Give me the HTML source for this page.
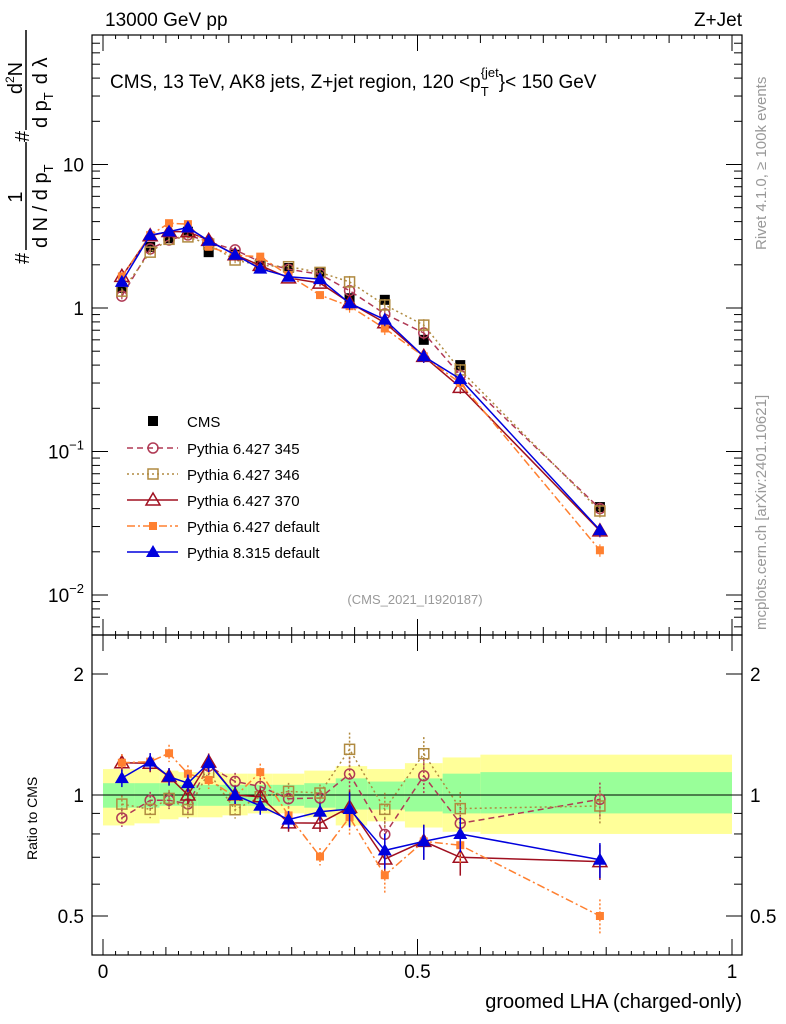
<!DOCTYPE html>
<html><head><meta charset="utf-8">
<style>
html,body{margin:0;padding:0;background:#fff;}
svg{display:block;font-family:"Liberation Sans",sans-serif;}
</style></head>
<body>
<svg id="chart" width="786" height="1024" viewBox="0 0 786 1024" xmlns="http://www.w3.org/2000/svg">
<g id="bands"></g>
<g id="axes"></g>
<g id="series"></g>
<text x="105" y="26" font-size="19">13000 GeV pp</text>
<text x="742" y="26" font-size="19" text-anchor="end">Z+Jet</text>
<text x="110" y="88" font-size="19">CMS, 13 TeV, AK8 jets, Z+jet region, 120 &lt;p<tspan font-size="13" dy="8">T</tspan><tspan font-size="13" dx="-8" dy="-19">{jet</tspan><tspan dy="11">}&lt; 150 GeV</tspan></text>
<text x="415" y="604" font-size="13" fill="#999" text-anchor="middle">(CMS_2021_I1920187)</text>
<text transform="translate(766,250) rotate(-90)" font-size="15" fill="#999">Rivet 4.1.0, ≥ 100k events</text>
<text transform="translate(766,630) rotate(-90)" font-size="15" fill="#999">mcplots.cern.ch [arXiv:2401.10621]</text>
<g font-size="20">
<text transform="translate(29,264) rotate(-90)">#</text>
<line x1="26" y1="250" x2="26" y2="142" stroke="#000" stroke-width="1.5"/>
<text transform="translate(47,248) rotate(-90)">d N / d p<tspan font-size="13" dy="6">T</tspan></text>
<text transform="translate(22,197) rotate(-90)" text-anchor="middle">1</text>
<text transform="translate(29,142) rotate(-90)">#</text>
<line x1="26" y1="130" x2="26" y2="30" stroke="#000" stroke-width="1.5"/>
<text transform="translate(22,78) rotate(-90)" text-anchor="middle">d<tspan font-size="12" dy="-8">2</tspan><tspan dy="8">N</tspan></text>
<text transform="translate(47,128) rotate(-90)">d p<tspan font-size="13" dy="6">T</tspan><tspan dy="-6" dx="8">d λ</tspan></text>
</g>
<text transform="translate(37,860) rotate(-90)" font-size="14">Ratio to CMS</text>
<text x="742" y="1008" font-size="20" text-anchor="end">groomed LHA (charged-only)</text>
<g id="legend"></g>
</svg>
<script>
// data
const xCenters = [0.03,0.075,0.105,0.135,0.168,0.21,0.25,0.295,0.345,0.392,0.448,0.51,0.568,0.79];
const binEdges = [0.0,0.05,0.09,0.12,0.15,0.19,0.23,0.27,0.32,0.37,0.42,0.48,0.54,0.6,1.0];
const cms = [1.38,2.66,3.07,3.4,2.45,2.35,2.0,1.9,1.75,1.17,1.14,0.6,0.4,0.041];
const p345 = [1.21,2.58,2.98,3.23,2.89,2.54,2.1,1.86,1.72,1.32,0.91,0.67,0.34,0.040];
const p346 = [1.31,2.45,3.01,3.13,2.79,2.16,1.98,1.94,1.77,1.52,1.05,0.76,0.37,0.0385];
const p370 = [1.66,3.19,3.41,3.4,2.96,2.35,1.98,1.62,1.49,1.09,0.79,0.46,0.28,0.028];
const pdef = [1.66,3.22,3.9,3.84,2.67,2.33,2.28,1.69,1.23,1.03,0.72,0.46,0.30,0.0205];
const p8 = [1.52,3.22,3.41,3.64,2.94,2.35,1.88,1.65,1.59,1.08,0.83,0.46,0.32,0.0283];
const yellowHi = [1.16,1.16,1.15,1.14,1.14,1.13,1.13,1.13,1.15,1.18,1.16,1.2,1.24,1.26];
const yellowLo = [0.84,0.85,0.87,0.88,0.88,0.89,0.9,0.9,0.88,0.84,0.86,0.83,0.81,0.8];
const greenHi = [1.07,1.07,1.07,1.06,1.06,1.06,1.06,1.06,1.07,1.1,1.08,1.1,1.13,1.14];
const greenLo = [0.93,0.93,0.94,0.94,0.94,0.94,0.94,0.94,0.93,0.92,0.92,0.91,0.9,0.9];
const xTicksMajor = [0,0.5,1];
const xTickLabels = ["0","0.5","1"];
const ratioTicks = [2,1,0.5];
const ratioLabels = ["2","1","0.5"];

const NS="http://www.w3.org/2000/svg";
const L=92,R=742,T=35,MB=635,RB=955;
const X=v=>103+v*629;
const Y=v=>308-143.5*Math.log10(v);
const RY=v=>795-121*Math.log2(v);
function mk(tag,attrs,parent){const e=document.createElementNS(NS,tag);for(const k in attrs)e.setAttribute(k,attrs[k]);parent.appendChild(e);return e;}
const bands=document.getElementById('bands'),axes=document.getElementById('axes'),ser=document.getElementById('series'),leg=document.getElementById('legend');

// bands
for(let i=0;i<xCenters.length;i++){
  const x0=X(binEdges[i]),x1=X(binEdges[i+1]);
  const y=mk('rect',{x:x0,y:RY(yellowHi[i]),width:x1-x0,height:RY(yellowLo[i])-RY(yellowHi[i]),fill:'#ffff99'},bands);
  
  
  const g=mk('rect',{x:x0,y:RY(greenHi[i]),width:x1-x0,height:RY(greenLo[i])-RY(greenHi[i]),fill:'#99ff99'},bands);
  
  
}
// frames
const f1=mk('rect',{x:L,y:T,width:R-L,height:MB-T,fill:'none',stroke:'#000','stroke-width':1.2},axes);


const f2=mk('rect',{x:L,y:MB,width:R-L,height:RB-MB,fill:'none',stroke:'#000','stroke-width':1.2},axes);


const one=mk('line',{x1:L,x2:R,y1:RY(1),y2:RY(1),stroke:'#000','stroke-width':1},axes);


// x ticks
for(let k=0;k<=50;k++){
  const v=k/50,x=X(v);
  const len=(k%25===0)?16:(k%5===0?8:4);
  [[T,1],[MB,-1],[MB,1],[RB,-1]].forEach(([y0,d])=>mk('line',{x1:x,x2:x,y1:y0,y2:y0+d*len,stroke:'#000'},axes));
}
xTicksMajor.forEach((v,i)=>{const t=mk('text',{x:X(v),y:978,'font-size':19,'text-anchor':'middle'},axes);t.textContent=xTickLabels[i];

});
// log y ticks
for(let d=-3;d<=1;d++){for(let m=1;m<=9;m++){const v=m*Math.pow(10,d);const y=Y(v);if(y<T||y>MB)continue;
  const len=m===1?16:8;
  mk('line',{x1:L,x2:L+len,y1:y,y2:y,stroke:'#000'},axes);mk('line',{x1:R,x2:R-len,y1:y,y2:y,stroke:'#000'},axes);}}
[[10,'10'],[1,'1']].forEach(([v,s])=>{const t=mk('text',{x:84,y:Y(v)+7,'font-size':19,'text-anchor':'end'},axes);t.textContent=s;

});
[[0.1,'−1'],[0.01,'−2']].forEach(([v,s])=>{const t=mk('text',{x:84,y:Y(v)+7,'font-size':19,'text-anchor':'end'},axes);t.innerHTML='10<tspan font-size="13" dy="-9">'+s+'</tspan>';

});
// ratio ticks
[0.5,0.6,0.7,0.8,0.9,1,2].forEach(v=>{const y=RY(v);const len=(v===1||v===2||v===0.5)?16:8;
  mk('line',{x1:L,x2:L+len,y1:y,y2:y,stroke:'#000'},axes);mk('line',{x1:R,x2:R-len,y1:y,y2:y,stroke:'#000'},axes);});
ratioTicks.forEach((v,i)=>{
  const a=mk('text',{x:84,y:RY(v)+7,'font-size':19,'text-anchor':'end'},axes);a.textContent=ratioLabels[i];
  
  
  const b=mk('text',{x:750,y:RY(v)+7,'font-size':19},axes);b.textContent=ratioLabels[i];
  
  
});
// markers
function marker(type,x,y,color,g){
  if(type==='sq')return mk('rect',{x:x-5,y:y-5,width:10,height:10,fill:color},g);
  if(type==='osq')return mk('rect',{x:x-5,y:y-5,width:10,height:10,fill:'none',stroke:color,'stroke-width':1.5},g);
  if(type==='oc')return mk('circle',{cx:x,cy:y,r:5,fill:'none',stroke:color,'stroke-width':1.5},g);
  if(type==='tri')return mk('polygon',{points:`${x},${y-7} ${x-7},${y+5} ${x+7},${y+5}`,fill:color},g);
  if(type==='otri')return mk('polygon',{points:`${x},${y-7} ${x-7},${y+5} ${x+7},${y+5}`,fill:'none',stroke:color,'stroke-width':1.5},g);
  if(type==='ssq')return mk('rect',{x:x-4,y:y-4,width:8,height:8,fill:color},g);
}
const models=[
 {name:'Pythia 6.427 345',vals:p345,color:'#b03a55',dash:'6,4',m:'oc',id:'pythia6-345'},
 {name:'Pythia 6.427 346',vals:p346,color:'#b08a40',dash:'2,3',m:'osq',id:'pythia6-346'},
 {name:'Pythia 6.427 370',vals:p370,color:'#a01020',dash:'',m:'otri',id:'pythia6-370'},
 {name:'Pythia 6.427 default',vals:pdef,color:'#ff8030',dash:'8,3,2,3',m:'ssq',id:'pythia6-default'},
 {name:'Pythia 8.315 default',vals:p8,color:'#0000dd',dash:'',m:'tri',id:'pythia8-default'}
];
// CMS
const cg=mk('g',{},ser);


cms.forEach((v,i)=>{const e=marker('sq',X(xCenters[i]),Y(v),'#000',cg);

});
models.forEach(md=>{
  const g=mk('g',{},ser);
  
  
  const pts=md.vals.map((v,i)=>X(xCenters[i])+','+Y(v)).join(' ');
  mk('polyline',{points:pts,fill:'none',stroke:md.color,'stroke-width':1.5,'stroke-dasharray':md.dash},g);
  const rpts=md.vals.map((v,i)=>X(xCenters[i])+','+RY(v/cms[i])).join(' ');
  mk('polyline',{points:rpts,fill:'none',stroke:md.color,'stroke-width':1.5,'stroke-dasharray':md.dash},g);
  md.vals.forEach((v,i)=>{
    const x=X(xCenters[i]);const r=v/cms[i];
    const err=i>=9?0.1:0.05;
    mk('line',{x1:x,x2:x,y1:RY(r*(1+err)),y2:RY(r*(1-err)),stroke:md.color,'stroke-width':1.5,'stroke-dasharray':md.dash?'2,2':''},g);
    mk('line',{x1:x,x2:x,y1:Y(v*(1+err)),y2:Y(v*(1-err)),stroke:md.color,'stroke-width':1.2},g);
    const a=marker(md.m,x,Y(v),md.color,g);
    
    
    const b=marker(md.m,x,RY(r),md.color,g);
    
    
  });
});
// legend
const ly=[421,448,474,500,526,552];
const le0=mk('g',{},leg);


marker('sq',153,ly[0],'#000',le0);
const t0=mk('text',{x:187,y:ly[0]+6,'font-size':15},le0);t0.textContent='CMS';
models.forEach((md,i)=>{
  const g=mk('g',{},leg);
  
  
  const y=ly[i+1];
  mk('line',{x1:127,x2:178,y1:y,y2:y,stroke:md.color,'stroke-width':1.5,'stroke-dasharray':md.dash},g);
  marker(md.m,153,y,md.color,g);
  const t=mk('text',{x:187,y:y+6,'font-size':15},g);t.textContent=md.name;
});
</script>
</body></html>
